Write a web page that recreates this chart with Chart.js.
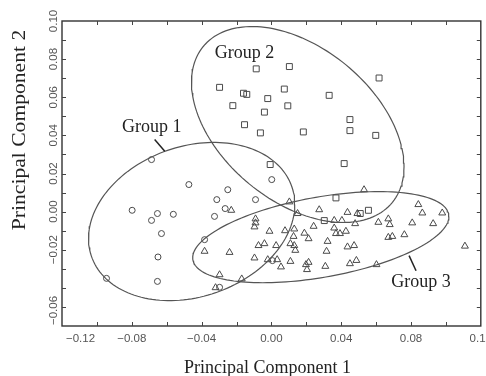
<!DOCTYPE html>
<html>
<head>
<meta charset="utf-8">
<script src="https://cdn.jsdelivr.net/npm/chart.js@4"></script>
<style>
  html, body { margin: 0; padding: 0; background: #fff; }
  canvas { display: block; }
</style>
</head>
<body>
<canvas id="pcaChart" width="486" height="376"></canvas>
<script>
// Group 1 (circles)
const group1X = [-0.0687, -0.0473, -0.0250, -0.0313, -0.0091, 0.0002, -0.0798, -0.0653, -0.0562, -0.0687,
  -0.0265, -0.0326, -0.0630, -0.0383, -0.0650, -0.0945, -0.0653, -0.0297, 0.0006];
const group1Y = [0.0273, 0.0142, 0.0115, 0.0063, 0.0063, 0.0168, 0.0007, -0.0010, -0.0014, -0.0046,
  0.0016, -0.0025, -0.0115, -0.0147, -0.0238, -0.0350, -0.0366, -0.0397, -0.0257];

// Group 2 (squares)
const group2X = [-0.0087, 0.0103, -0.0297, -0.0160, -0.0141, -0.0021, 0.0074, -0.0221, -0.0040, 0.0094,
  -0.0154, -0.0063, 0.0617, 0.0331, 0.0450, 0.0450, 0.0183, 0.0598, -0.0007, 0.0417,
  0.0370, 0.0509, 0.0556, 0.0303];
const group2Y = [0.0749, 0.0761, 0.0652, 0.0621, 0.0615, 0.0593, 0.0643, 0.0556, 0.0522, 0.0555,
  0.0456, 0.0413, 0.0701, 0.0610, 0.0483, 0.0425, 0.0418, 0.0400, 0.0247, 0.0252,
  0.0072, -0.0010, 0.0007, -0.0047];

// Group 3 (triangles)
const group3X = [-0.0230, 0.0103, 0.0274, 0.0150, -0.0091, -0.0091, -0.0097, -0.0011, 0.0078, 0.0131,
  0.0242, 0.0189, 0.0213, 0.0127, -0.0040, -0.0074, 0.0027, 0.0109, 0.0131, 0.0137,
  -0.0383, -0.0240, -0.0097, -0.0021, 0.0033, 0.0109, 0.0055, 0.0213, 0.0198, 0.0204,
  -0.0297, -0.0170, -0.0320, 0.0531, 0.0436, 0.0493, 0.0842, 0.0865, 0.0979, 0.0360,
  0.0404, 0.0480, 0.0613, 0.0670, 0.0678, 0.0807, 0.0927, 0.0360, 0.0370, 0.0393,
  0.0427, 0.0322, 0.0316, 0.0436, 0.0474, 0.0670, 0.0693, 0.0762, 0.0309, 0.0450,
  0.0487, 0.0602, 0.1109];
const group3Y = [0.0007, 0.0051, 0.0010, -0.0010, -0.0038, -0.0059, -0.0080, -0.0103, -0.0100, -0.0091,
  -0.0077, -0.0113, -0.0142, -0.0130, -0.0168, -0.0178, -0.0178, -0.0168, -0.0178, -0.0203,
  -0.0208, -0.0214, -0.0243, -0.0252, -0.0252, -0.0261, -0.0290, -0.0266, -0.0278, -0.0304,
  -0.0331, -0.0353, -0.0399, 0.0115, -0.0004, -0.0010, 0.0037, -0.0007, -0.0007, -0.0046,
  -0.0046, -0.0063, -0.0056, -0.0038, -0.0068, -0.0059, -0.0063, -0.0086, -0.0115, -0.0115,
  -0.0103, -0.0156, -0.0208, -0.0185, -0.0178, -0.0135, -0.0130, -0.0121, -0.0287, -0.0273,
  -0.0256, -0.0278, -0.0181];

// group ellipses: centre, half extents along x / y, and x-y correlation
const ellipseCenters = [[-0.0457, -0.0052], [0.0151, 0.0457], [0.0283, -0.0134]];
const ellipseSpreads = [[0.0591, 0.0415], [0.0609, 0.0514], [0.0734, 0.0239]];
const ellipseTilts = [0.215, -0.431, 0.451];

// labels
const groupNames = ['Group 1', 'Group 2', 'Group 3'];
const xTickValues = [-0.12, -0.08, -0.04, 0.00, 0.04, 0.08, 0.12];
const xTickLabels = ['\u22120.12', '\u22120.08', '\u22120.04', '0.00', '0.04', '0.08', '0.12'];
const yTickValues = [-0.06, -0.02, 0.00, 0.02, 0.04, 0.06, 0.08, 0.10];
const yTickLabels = ['\u22120.06', '\u22120.02', '0.00', '0.02', '0.04', '0.06', '0.08', '0.10'];
const xMinorTicks = [-0.10, -0.08, -0.06, -0.04, -0.02, 0.00, 0.02, 0.04, 0.06, 0.08, 0.10];
const yMinorTicks = [-0.05, -0.04, -0.03, -0.02, -0.01, 0.00, 0.01, 0.02, 0.03, 0.04, 0.05, 0.06, 0.07, 0.08, 0.09];

// where the group names sit (data units) and their pointer lines
const groupLabelPos = [[-0.0686, 0.0441], [-0.0154, 0.0832], [0.0857, -0.0373]];
const pointerLines = [[[-0.0669, 0.0378], [-0.0611, 0.0317]], null, [[0.0789, -0.0231], [0.0829, -0.0310]]];

const toPoints = (xs, ys) => xs.map((x, i) => ({ x: x, y: ys[i] }));

function ellipsePoints(i) {
  const [cx, cy] = ellipseCenters[i];
  const [sx, sy] = ellipseSpreads[i];
  const r = ellipseTilts[i];
  const pts = [];
  for (let k = 0; k <= 160; k++) {
    const t = 2 * Math.PI * k / 160;
    pts.push({
      x: cx + sx * Math.cos(t),
      y: cy + sy * (r * Math.cos(t) + Math.sqrt(1 - r * r) * Math.sin(t))
    });
  }
  return pts;
}

const ink = '#4a4a4a';

const markerSet = (label, pts, style, radius) => ({
  label: label,
  data: pts,
  pointStyle: style,
  pointRadius: radius,
  pointBorderColor: ink,
  pointBackgroundColor: 'rgba(255,255,255,0)',
  pointBorderWidth: 1,
  showLine: false
});

const ellipseSet = i => ({
  label: groupNames[i] + ' ellipse',
  data: ellipsePoints(i),
  showLine: true,
  borderColor: '#555',
  borderWidth: 1.2,
  pointRadius: 0,
  fill: false,
  tension: 0
});

// frame, inward ticks, tick labels, titles and group names
const decorations = {
  id: 'decorations',
  afterDatasetsDraw(chart) {
    const { ctx, chartArea: a, scales: { x, y } } = chart;
    ctx.save();
    ctx.strokeStyle = '#333';
    ctx.lineWidth = 1.4;
    ctx.strokeRect(a.left, a.top, a.right - a.left, a.bottom - a.top);

    ctx.lineWidth = 1;
    ctx.strokeStyle = '#444';
    ctx.beginPath();
    xMinorTicks.forEach(v => {
      const px = Math.round(x.getPixelForValue(v)) + 0.5;
      ctx.moveTo(px, a.bottom); ctx.lineTo(px, a.bottom - 4);
      ctx.moveTo(px, a.top); ctx.lineTo(px, a.top + 4);
    });
    yMinorTicks.forEach(v => {
      const py = Math.round(y.getPixelForValue(v)) + 0.5;
      ctx.moveTo(a.left, py); ctx.lineTo(a.left + 4, py);
      ctx.moveTo(a.right, py); ctx.lineTo(a.right - 4, py);
    });
    ctx.stroke();

    // tick labels
    ctx.fillStyle = '#555';
    ctx.font = '11.5px "Liberation Sans", Arial, sans-serif';
    ctx.textBaseline = 'middle';
    xTickValues.forEach((v, i) => {
      const px = x.getPixelForValue(v);
      if (i === 0) { ctx.textAlign = 'left'; ctx.fillText(xTickLabels[i], px + 4, a.bottom + 13); }
      else { ctx.textAlign = 'center'; ctx.fillText(xTickLabels[i], px, a.bottom + 13); }
    });
    yTickValues.forEach((v, i) => {
      const py = y.getPixelForValue(v);
      ctx.save();
      ctx.translate(a.left - 8, i === 0 ? py - 1 : py);
      ctx.rotate(-Math.PI / 2);
      ctx.textAlign = i === 0 ? 'left' : 'center';
      ctx.fillText(yTickLabels[i], 0, 0);
      ctx.restore();
    });

    // axis titles
    ctx.fillStyle = '#222';
    ctx.font = '18px "Liberation Serif", "Times New Roman", serif';
    ctx.textAlign = 'center';
    ctx.fillText('Principal Component 1', (a.left + a.right) / 2 - 4, a.bottom + 42);
    ctx.save();
    ctx.translate(20, 130);
    ctx.rotate(-Math.PI / 2);
    ctx.scale(1.2, 1);
    ctx.fillText('Principal Component 2', 0, 0);
    ctx.restore();

    // group names and pointers
    ctx.font = '18px "Liberation Serif", "Times New Roman", serif';
    groupNames.forEach((name, i) => {
      const [gx, gy] = groupLabelPos[i];
      ctx.fillText(name, x.getPixelForValue(gx), y.getPixelForValue(gy));
    });
    ctx.strokeStyle = '#222';
    ctx.lineWidth = 1.5;
    pointerLines.forEach(seg => {
      if (!seg) return;
      ctx.beginPath();
      ctx.moveTo(x.getPixelForValue(seg[0][0]), y.getPixelForValue(seg[0][1]));
      ctx.lineTo(x.getPixelForValue(seg[1][0]), y.getPixelForValue(seg[1][1]));
      ctx.stroke();
    });
    ctx.restore();
  }
};

new Chart(document.getElementById('pcaChart'), {
  type: 'scatter',
  data: {
    datasets: [
      ellipseSet(0),
      ellipseSet(1),
      ellipseSet(2),
      markerSet(groupNames[0], toPoints(group1X, group1Y), 'circle', 3),
      markerSet(groupNames[1], toPoints(group2X, group2Y), 'rect', 4.2),
      markerSet(groupNames[2], toPoints(group3X, group3Y), 'triangle', 4)
    ]
  },
  options: {
    responsive: false,
    animation: false,
    layout: { padding: { left: 62, right: 4, top: 21, bottom: 50 } },
    scales: {
      x: { type: 'linear', min: -0.12, max: 0.12, display: false },
      y: { type: 'linear', min: -0.06, max: 0.10, display: false }
    },
    plugins: {
      legend: { display: false },
      tooltip: { enabled: false }
    }
  },
  plugins: [decorations]
});
</script>
</body>
</html>
